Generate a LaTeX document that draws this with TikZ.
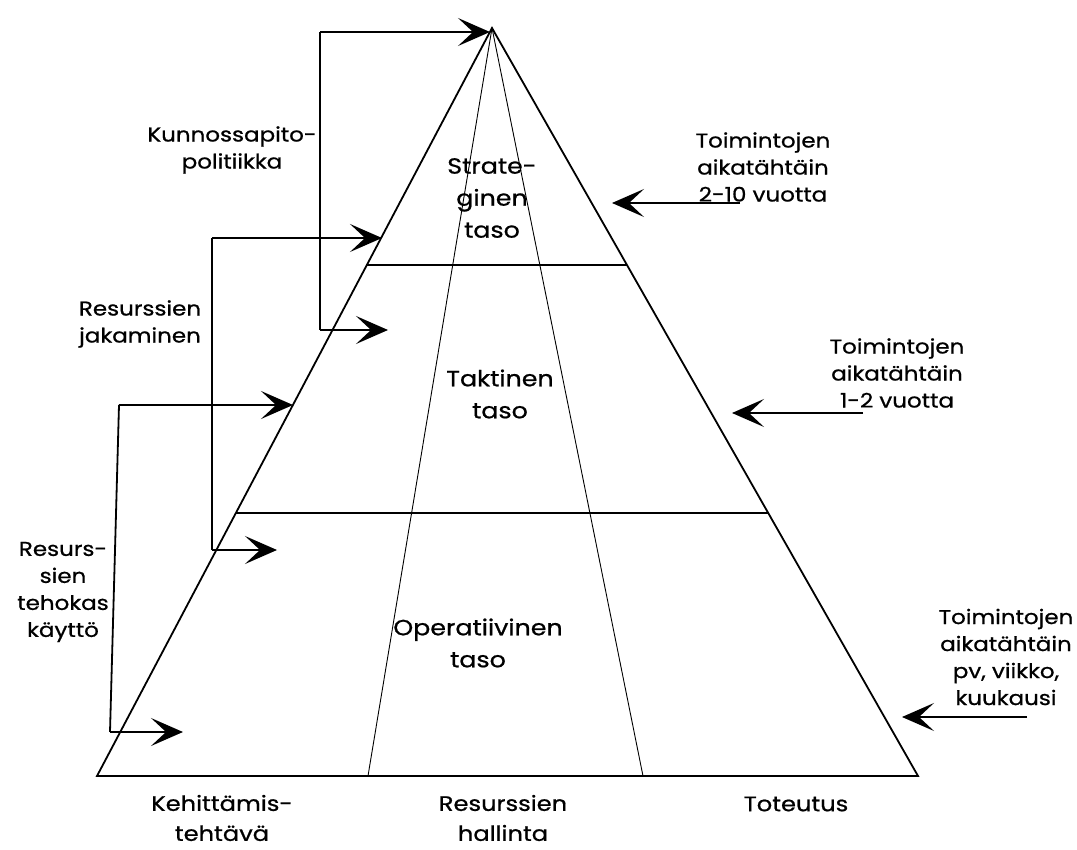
\documentclass[tikz,border=0pt]{standalone}
\usepackage{fontspec}
\setmainfont{Poppins}[FakeStretch=1.15,FakeBold=0.8]
\usetikzlibrary{arrows.meta}
\begin{document}
\begin{tikzpicture}[x=1pt,y=-1pt,
  mainline/.style={line width=1.8pt,line join=miter},
  thinline/.style={line width=0.9pt},
  armline/.style={line width=1.8pt},
  arr/.style={line width=1.8pt,-{Stealth[length=32pt,width=28pt,inset=15pt]}},
  big/.style={font=\fontsize{22}{32}\selectfont,align=center,inner sep=0pt},
  bot/.style={font=\fontsize{21}{30}\selectfont,align=center,inner sep=0pt},
  lab/.style={font=\fontsize{20}{27}\selectfont,align=center,inner sep=0pt},
]
\useasboundingbox (0,0) rectangle (1077,850);
% pyramid
\coordinate (A) at (492,28);
\coordinate (L) at (97,776);
\coordinate (R) at (918,776);
\coordinate (B1) at (368,776);
\coordinate (B2) at (643,776);
\coordinate (h1l) at (367,265);
\coordinate (h1r) at (627,265);
\coordinate (h2l) at (236,513);
\coordinate (h2r) at (768,513);
\draw[mainline] (A) -- (L) -- (R) -- cycle;
\draw[mainline] (h1l) -- (h1r);
\draw[mainline] (h2l) -- (h2r);
\draw[thinline] (A) -- (B1);
\draw[thinline] (A) -- (B2);
% left connectors
\coordinate (k0) at (320,32);
\coordinate (k1) at (320,330);
\coordinate (kt0) at (490,32);
\coordinate (kt1) at (388,330);
\draw[armline] (k0) -- (k1);
\draw[arr] (k0) -- (kt0);
\draw[arr] (k1) -- (kt1);
\coordinate (j0) at (212,238);
\coordinate (j1) at (212,550);
\coordinate (jt0) at (382,238);
\coordinate (jt1) at (277,550);
\draw[armline] (j0) -- (j1);
\draw[arr] (j0) -- (jt0);
\draw[arr] (j1) -- (jt1);
\coordinate (e0) at (119,405);
\coordinate (e1) at (110,732);
\coordinate (et0) at (293,405);
\coordinate (et1) at (183,732);
\draw[armline] (e0) -- (e1);
\draw[arr] (e0) -- (et0);
\draw[arr] (e1) -- (et1);
% right connectors
\coordinate (r1s) at (740,203);
\coordinate (r1t) at (612,203);
\coordinate (r2s) at (863,413);
\coordinate (r2t) at (732,413);
\coordinate (r3s) at (1027,717);
\coordinate (r3t) at (902,717);
\draw[arr] (r1s) -- (r1t);
\draw[arr] (r2s) -- (r2t);
\draw[arr] (r3s) -- (r3t);
% pyramid texts
\node[big] (strat) at (492,198) {Strate-\\ginen\\taso};
\node[big] (takt) at (500,394) {Taktinen\\taso};
\node[big] (oper) at (478,643) {Operatiivinen\\taso};
% left texts
\node[lab] (kunn) at (232,150) {Kunnossapito-\\politiikka};
\node[lab] (jak) at (140,324) {Resurssien\\jakaminen};
\node[lab] (teh) at (63,592) {Resurs-\\sien\\tehokas\\käyttö};
% right texts
\node[lab] (t1) at (763,167) {Toimintojen\\aikatähtäin\\2-10 vuotta};
\node[lab] (t2) at (897,373) {Toimintojen\\aikatähtäin\\1-2 vuotta};
\node[lab] (t3) at (1006,657) {Toimintojen\\aikatähtäin\\pv, viikko,\\kuukausi};
% bottom texts
\node[bot] (b1) at (222,818) {Kehittämis-\\tehtävä};
\node[bot] (b2) at (503,818) {Resurssien\\hallinta};
\node[bot] (b3) at (796,804) {Toteutus};
\end{tikzpicture}
\end{document}
